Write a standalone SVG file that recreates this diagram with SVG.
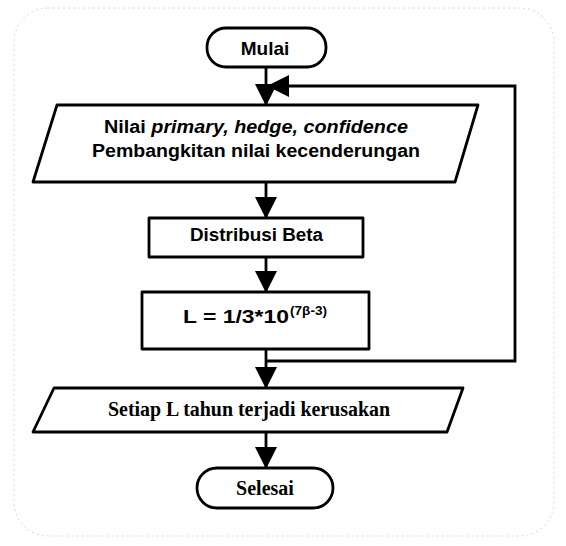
<svg xmlns="http://www.w3.org/2000/svg" width="566" height="546" viewBox="0 0 566 546">
<style>
.shape{fill:#fff;stroke:#000;stroke-width:2.8;stroke-linejoin:round}
.conn{fill:none;stroke:#000;stroke-width:2.8}
.sans{font-family:"Liberation Sans",Arial,sans-serif;font-weight:bold;fill:#000}
.serif{font-family:"Liberation Serif","Times New Roman",serif;font-weight:bold;fill:#000}
</style>
<defs>
<marker id="ah" viewBox="0 0 22 22" markerWidth="22" markerHeight="22" refX="21" refY="11" orient="auto" markerUnits="userSpaceOnUse">
<path d="M0,0 L22,11 L0,22 Z" fill="#000"/>
</marker>
</defs>
<rect x="14" y="8" width="540" height="528" rx="34" fill="none" stroke="#d8d8d8" stroke-width="1" stroke-dasharray="2 3"/>
<g id="connectors">
<line class="conn" x1="266" y1="67" x2="266" y2="105" marker-end="url(#ah)"/>
<path class="conn" d="M266,361 H515 V86 H268" marker-end="url(#ah)"/>
<line class="conn" x1="266" y1="182" x2="266" y2="218" marker-end="url(#ah)"/>
<line class="conn" x1="266" y1="257" x2="266" y2="292" marker-end="url(#ah)"/>
<line class="conn" x1="266" y1="349" x2="266" y2="388" marker-end="url(#ah)"/>
<line class="conn" x1="266" y1="432" x2="266" y2="468" marker-end="url(#ah)"/>
</g>
<g id="mulai">
<rect class="shape" x="207" y="28" width="119" height="39" rx="19"/>
<text class="sans" x="265" y="55" font-size="19" text-anchor="middle">Mulai</text>
</g>
<g id="input">
<polygon class="shape" points="57,105 478,105 455,182 33,182"/>
<text class="sans" x="104" y="133" font-size="18" textLength="304" lengthAdjust="spacingAndGlyphs">Nilai <tspan font-style="italic">primary, hedge, confidence</tspan></text>
<text class="sans" x="92" y="157" font-size="18" textLength="328" lengthAdjust="spacingAndGlyphs">Pembangkitan nilai kecenderungan</text>
</g>
<g id="beta">
<rect class="shape" x="149" y="218" width="214" height="39"/>
<text class="sans" x="190" y="241" font-size="18" textLength="133" lengthAdjust="spacingAndGlyphs">Distribusi Beta</text>
</g>
<g id="formula">
<rect class="shape" x="142" y="292" width="227" height="57"/>
<text class="sans" x="183" y="323" font-size="18">
<tspan textLength="106" lengthAdjust="spacingAndGlyphs">L = 1/3*10</tspan><tspan x="290" y="315" font-size="12" textLength="37" lengthAdjust="spacingAndGlyphs">(7β-3)</tspan></text>
</g>
<g id="output">
<polygon class="shape" points="54,388 463,388 447,432 33,432"/>
<text class="serif" x="108" y="416" font-size="20" textLength="282" lengthAdjust="spacingAndGlyphs">Setiap L tahun terjadi  kerusakan</text>
</g>
<g id="selesai">
<rect class="shape" x="197" y="468" width="136" height="40" rx="20"/>
<text class="serif" x="265" y="495" font-size="20" text-anchor="middle">Selesai</text>
</g>
</svg>
